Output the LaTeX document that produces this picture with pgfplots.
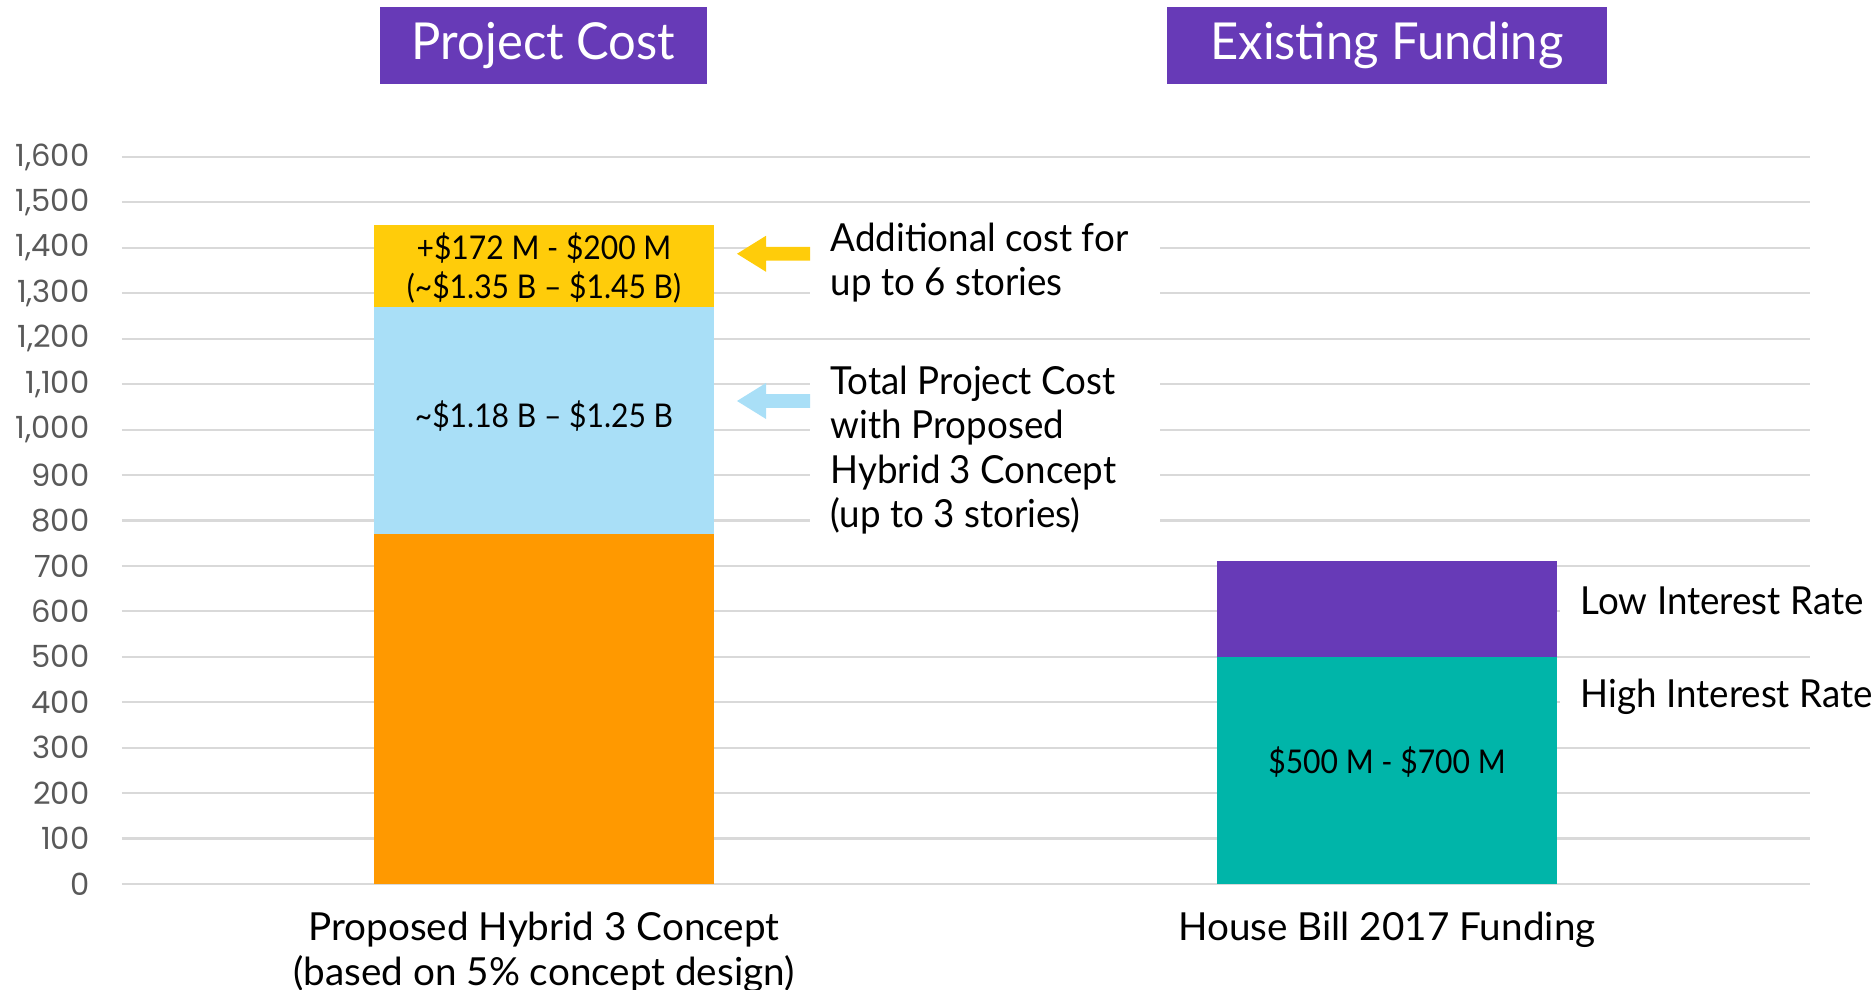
\documentclass[border=0pt]{standalone}
\usepackage{fontspec}
\setmainfont{Lato}
\newfontfamily\tickfont{Poppins}
\newfontfamily\annfont[FakeStretch=0.95]{Lato}
\newfontfamily\barfont[FakeStretch=0.92]{Lato}
\newfontfamily\titlefont[FakeStretch=0.96]{Lato}
\usepackage{pgfplots}
\pgfplotsset{compat=1.18}
\definecolor{cOrange}{HTML}{FF9900}
\definecolor{cBlue}{HTML}{A9DFF7}
\definecolor{cYellow}{HTML}{FFCC0A}
\definecolor{cTeal}{HTML}{00B5A9}
\definecolor{cPurple}{HTML}{673AB7}
\definecolor{cGrid}{HTML}{D9D9D9}
\definecolor{cTick}{HTML}{595959}
\begin{document}
\begin{tikzpicture}
\path[use as bounding box] (0,0) rectangle (18.75cm,9.9cm);
% title boxes
\node[fill=cPurple, text=white, minimum width=3.27cm, minimum height=0.77cm, inner sep=0pt,
      font=\titlefont\fontsize{14.5}{16}\selectfont] at (5.435cm,9.445cm) {Project Cost};
\node[fill=cPurple, text=white, minimum width=4.40cm, minimum height=0.77cm, inner sep=0pt,
      font=\titlefont\fontsize{14.5}{16}\selectfont] at (13.87cm,9.445cm) {Existing Funding};
\begin{axis}[
  at={(1.22cm,1.06cm)}, anchor=south west,
  scale only axis, width=16.88cm, height=7.27cm,
  xmin=1.22, xmax=18.10, ymin=0, ymax=1600,
  ybar stacked, bar width=3.4cm,
  axis line style={draw=none},
  tick style={draw=none},
  major tick length=0pt,
  ytick={0,100,...,1600},
  ymajorgrids, grid style={cGrid, line width=0.6pt},
  yticklabel style={font=\tickfont\fontsize{8.7}{10}\selectfont, text=cTick, inner sep=0pt, xshift=-0.32cm, anchor=east},
  /pgf/number format/1000 sep={,},
  /pgf/number format/assume math mode=true,
  xtick={5.44,13.87},
  xticklabels={{Proposed Hybrid 3 Concept\\(based on 5\% concept design)},{House Bill 2017 Funding}},
  xticklabel style={align=center, anchor=north, inner sep=0pt, yshift=-0.27cm, font=\fontsize{11}{12.8}\selectfont},
  clip=false,
]
\addplot[fill=cOrange, draw=none] coordinates {(5.44,770) (13.87,0)};
\addplot[fill=cBlue, draw=none] coordinates {(5.44,500) (13.87,0)};
\addplot[fill=cYellow, draw=none] coordinates {(5.44,180) (13.87,0)};
\addplot[fill=cTeal, draw=none] coordinates {(5.44,0) (13.87,500)};
\addplot[fill=cPurple, draw=none] coordinates {(5.44,0) (13.87,210)};
% anchor coordinates for annotations
\coordinate (w1a) at (axis cs:8.10,1250); \coordinate (w1b) at (axis cs:11.60,1450);
\coordinate (w2a) at (axis cs:8.10,760);  \coordinate (w2b) at (axis cs:11.60,1150);
\coordinate (w3a) at (axis cs:15.60,550); \coordinate (w3b) at (axis cs:18.12,650);
\coordinate (w4a) at (axis cs:15.60,350); \coordinate (w4b) at (axis cs:18.12,450);
\coordinate (ya) at (axis cs:8.10,1387);
\coordinate (ba) at (axis cs:8.10,1063);
\coordinate (t1) at (axis cs:5.44,1355);
\coordinate (t2) at (axis cs:5.44,1029);
\coordinate (t3) at (axis cs:13.87,268);
\coordinate (n1) at (axis cs:8.30,1367);
\coordinate (n2) at (axis cs:8.30,955);
\coordinate (n3) at (axis cs:15.80,624);
\coordinate (n4) at (axis cs:15.80,413);
\end{axis}
% white boxes hiding gridlines behind annotations
\fill[white] (w1a) rectangle (w1b);
\fill[white] (w2a) rectangle (w2b);
\fill[white] (w3a) rectangle (w3b);
\fill[white] (w4a) rectangle (w4b);
% arrows
\foreach \c/\col in {ya/cYellow, ba/cBlue}{
\fill[\col] ([yshift=-0.068cm]\c) -- ([xshift=-0.44cm,yshift=-0.068cm]\c) -- ([xshift=-0.44cm,yshift=-0.18cm]\c)
  -- ([xshift=-0.73cm]\c) -- ([xshift=-0.44cm,yshift=0.18cm]\c) -- ([xshift=-0.44cm,yshift=0.068cm]\c)
  -- ([yshift=0.068cm]\c) -- cycle;
}
% bar texts
\node[align=center, font=\barfont\fontsize{9.3}{11}\selectfont] at (t1)
   {+\$172 M - \$200 M\\(\textasciitilde\$1.35 B – \$1.45 B)};
\node[font=\barfont\fontsize{9.3}{11}\selectfont] at (t2) {\textasciitilde\$1.18 B – \$1.25 B};
\node[font=\barfont\fontsize{9.3}{11}\selectfont] at (t3) {\$500 M - \$700 M};
% annotations
\node[anchor=west, align=left, inner sep=0pt, font=\annfont\fontsize{11}{12.6}\selectfont] at (n1)
   {Additional cost for\\up to 6 stories};
\node[anchor=west, align=left, inner sep=0pt, font=\annfont\fontsize{11}{12.6}\selectfont] at (n2)
   {Total Project Cost\\with Proposed\\Hybrid 3 Concept\\(up to 3 stories)};
\node[anchor=west, inner sep=0pt, font=\annfont\fontsize{11}{12.6}\selectfont] at (n3) {Low Interest Rate};
\node[anchor=west, inner sep=0pt, font=\annfont\fontsize{11}{12.6}\selectfont] at (n4) {High Interest Rate};
\end{tikzpicture}
\end{document}
